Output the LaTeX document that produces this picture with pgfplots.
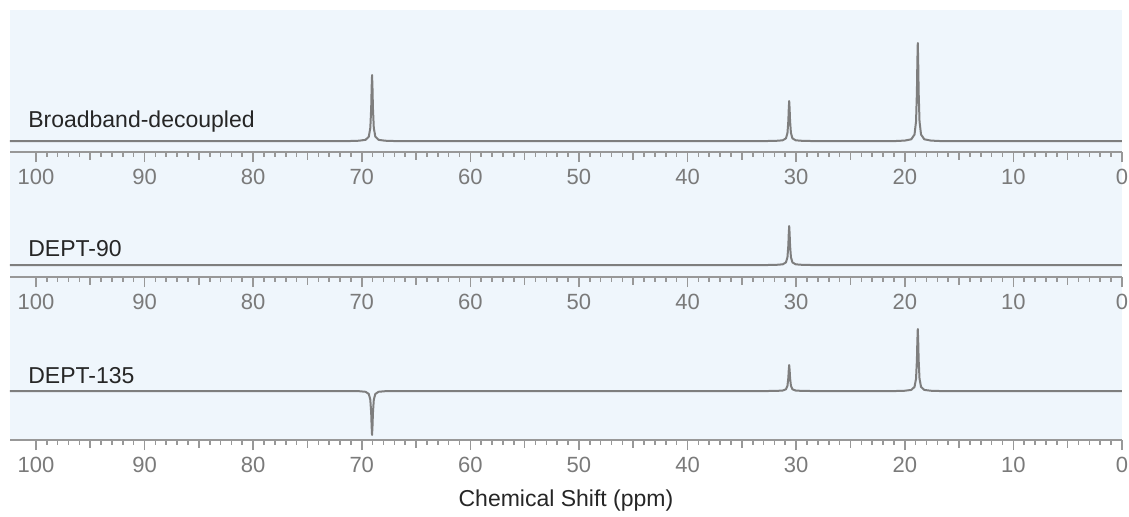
\documentclass[border=0pt]{standalone}
\usepackage{fontspec}
\setmainfont{Liberation Sans}
\usepackage{pgfplots}
\pgfplotsset{compat=1.18}

\definecolor{bgblue}{HTML}{EFF6FC}
\definecolor{specline}{HTML}{7E7E7E}
\definecolor{axisgray}{HTML}{989898}
\definecolor{ticktext}{HTML}{7A7A7A}
\definecolor{labeltext}{HTML}{262626}

% one panel of the spectrum: reversed ppm axis, ticks only at the bottom
\pgfplotsset{
  spec/.style={
    x=5.43pt, y=0.5pt,
    x dir=reverse,
    xmin=0, xmax=102.39,
    axis x line*=bottom,
    axis y line=none,
    axis line style={axisgray, line width=1pt},
    xtick={0,10,...,100},
    minor x tick num=9,
    extra x ticks={5,15,...,95},
    extra x tick labels={},
    extra x tick style={major tick length=3.8pt},
    tick align=outside,
    major tick length=5pt,
    minor tick length=2.4pt,
    every tick/.style={axisgray, line width=0.8pt},
    ticklabel style={font=\fontsize{11}{13}\selectfont, text=ticktext},
    /pgf/number format/assume math mode=true,
    clip=false,
    anchor=south west,
  },
  trace/.style={specline, line width=1pt, line join=round, no marks},
}
\tikzset{tag/.style={anchor=base west, inner sep=0pt, text=labeltext, font=\fontsize{11.5}{13}\selectfont}}

\begin{document}
\begin{tikzpicture}
\useasboundingbox (0,0) rectangle (564.5pt,-258pt);
\fill[bgblue] (5pt,-5pt) rectangle (561pt,-220pt);

% Broadband-decoupled
\begin{axis}[spec, at={(5pt,-76pt)}, ymin=-11, ymax=131]
\addplot[trace] coordinates {
  (102.39,0) (71.05,0) (70.25,0.29) (69.65,1.16) (69.35,4.36) (69.21,13.2) (69.13,33) (69.09,52.8)
  (69.05,66) (69.01,52.8) (68.97,33) (68.89,13.2) (68.75,4.36) (68.45,1.16) (67.85,0.29) (67.05,0)
  (32.64,0) (31.84,0.18) (31.24,0.7) (30.94,2.64) (30.80,8) (30.72,20) (30.68,32)
  (30.64,40) (30.60,32) (30.56,20) (30.48,8) (30.34,2.64) (30.04,0.7) (29.44,0.18) (28.64,0)
  (20.80,0) (20.00,0.43) (19.40,1.72) (19.10,6.47) (18.96,19.6) (18.88,49) (18.84,78.4)
  (18.80,98) (18.76,78.4) (18.72,49) (18.64,19.6) (18.50,6.47) (18.20,1.72) (17.60,0.43) (16.80,0)
  (0,0)
};
\node[tag] at (axis cs:100.74,14) {Broadband-decoupled};
\end{axis}

% DEPT-90
\begin{axis}[spec, at={(5pt,-138.5pt)}, ymin=-12, ymax=75]
\addplot[trace] coordinates {
  (102.39,0)
  (32.64,0) (31.84,0.17) (31.24,0.68) (30.94,2.57) (30.80,7.8) (30.72,19.5) (30.68,31.2)
  (30.64,39) (30.60,31.2) (30.56,19.5) (30.48,7.8) (30.34,2.57) (30.04,0.68) (29.44,0.17) (28.64,0)
  (0,0)
};
\node[tag] at (axis cs:100.74,9) {DEPT-90};
\end{axis}

% DEPT-135
\begin{axis}[spec, at={(5pt,-220pt)}, ymin=-49, ymax=76,
  xlabel={Chemical Shift (ppm)},
  xlabel style={at={(axis description cs:0.5,0)}, anchor=center, yshift=-30.5pt,
    text=labeltext, font=\fontsize{11.5}{13}\selectfont}]
\addplot[trace] coordinates {
  (102.39,0) (71.05,0) (70.25,-0.19) (69.65,-0.77) (69.35,-2.9) (69.21,-8.8) (69.13,-22) (69.09,-35.2)
  (69.05,-44) (69.01,-35.2) (68.97,-22) (68.89,-8.8) (68.75,-2.9) (68.45,-0.77) (67.85,-0.19) (67.05,0)
  (32.64,0) (31.84,0.11) (31.24,0.46) (30.94,1.72) (30.80,5.2) (30.72,13) (30.68,20.8)
  (30.64,26) (30.60,20.8) (30.56,13) (30.48,5.2) (30.34,1.72) (30.04,0.46) (29.44,0.11) (28.64,0)
  (20.80,0) (20.00,0.27) (19.40,1.09) (19.10,4.09) (18.96,12.4) (18.88,31) (18.84,49.6)
  (18.80,62) (18.76,49.6) (18.72,31) (18.64,12.4) (18.50,4.09) (18.20,1.09) (17.60,0.27) (16.80,0)
  (0,0)
};
\node[tag] at (axis cs:100.74,8) {DEPT-135};
\end{axis}
\end{tikzpicture}
\end{document}
